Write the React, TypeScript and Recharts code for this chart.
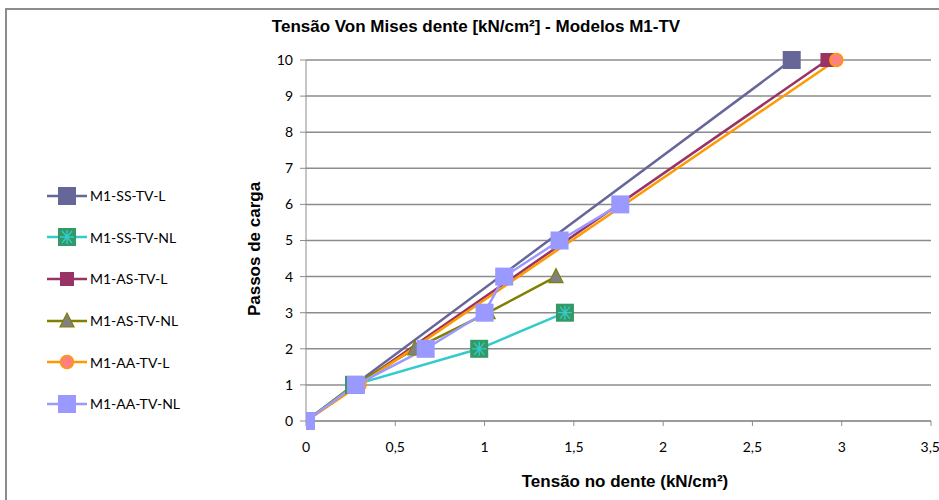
import React from "react"
import { CartesianGrid, Line, LineChart, XAxis, YAxis } from "recharts"

// load steps vs. Von Mises stress (kN/cm²)
const ssL = [
  { x: 0, y: 0 },
  { x: 0.27, y: 1 },
  { x: 2.72, y: 10 },
]
const ssNL = [
  { x: 0, y: 0 },
  { x: 0.27, y: 1 },
  { x: 0.97, y: 2 },
  { x: 1.45, y: 3 },
]
const asL = [
  { x: 0, y: 0 },
  { x: 0.29, y: 1 },
  { x: 2.92, y: 10 },
]
const asNL = [
  { x: 0, y: 0 },
  { x: 0.27, y: 1 },
  { x: 0.61, y: 2 },
  { x: 1.02, y: 3 },
  { x: 1.4, y: 4 },
]
const aaL = [
  { x: 0, y: 0 },
  { x: 0.3, y: 1 },
  { x: 2.97, y: 10 },
]
const aaNL = [
  { x: 0, y: 0 },
  { x: 0.28, y: 1 },
  { x: 0.67, y: 2 },
  { x: 1.0, y: 3 },
  { x: 1.11, y: 4 },
  { x: 1.42, y: 5 },
  { x: 1.76, y: 6 },
]

const xTicks = [0, 0.5, 1, 1.5, 2, 2.5, 3, 3.5]
const yTicks = [0, 1, 2, 3, 4, 5, 6, 7, 8, 9, 10]

type Kind = "bigSquare" | "starSquare" | "smallSquare" | "triangle" | "circle" | "paleSquare"

const series: { name: string; data: { x: number; y: number }[]; color: string; kind: Kind }[] = [
  { name: "M1-SS-TV-L", data: ssL, color: "#666699", kind: "bigSquare" },
  { name: "M1-SS-TV-NL", data: ssNL, color: "#33CCCC", kind: "starSquare" },
  { name: "M1-AS-TV-L", data: asL, color: "#993366", kind: "smallSquare" },
  { name: "M1-AS-TV-NL", data: asNL, color: "#808000", kind: "triangle" },
  { name: "M1-AA-TV-L", data: aaL, color: "#FF9900", kind: "circle" },
  { name: "M1-AA-TV-NL", data: aaNL, color: "#9999FF", kind: "paleSquare" },
]

const Marker = ({ kind, cx, cy }: { kind: Kind; cx: number; cy: number }) => {
  switch (kind) {
    case "bigSquare":
      return <rect x={cx - 9} y={cy - 9} width={18} height={18} fill="#666699" />
    case "starSquare":
      return (
        <g>
          <rect x={cx - 9} y={cy - 9} width={18} height={18} fill="#339966" />
          <path
            d={`M${cx - 7},${cy} L${cx + 7},${cy} M${cx},${cy - 7} L${cx},${cy + 7} M${cx - 5},${cy - 6} L${cx + 5},${cy + 6} M${cx - 5},${cy + 6} L${cx + 5},${cy - 6}`}
            stroke="#33CCCC"
            strokeWidth={1.3}
          />
        </g>
      )
    case "smallSquare":
      return <rect x={cx - 7} y={cy - 7} width={14} height={14} fill="#993366" />
    case "triangle":
      return (
        <path
          d={`M${cx},${cy - 8} L${cx + 7},${cy + 6} L${cx - 7},${cy + 6} Z`}
          fill="#808080"
          stroke="#808000"
          strokeWidth={1.2}
        />
      )
    case "circle":
      return <circle cx={cx} cy={cy} r={6.5} fill="#FF8080" stroke="#FF9900" strokeWidth={1.5} />
    case "paleSquare":
      return <rect x={cx - 9} y={cy - 9} width={18} height={18} fill="#9999FF" />
  }
}

const fmt = (v: number) => String(v).replace(".", ",")

const boldText = { fontFamily: "Liberation Sans, Arial, sans-serif", fontWeight: "bold" as const, fontSize: 17 }

export default function App() {
  return (
    <div style={{ position: "absolute", left: 0, top: 0, width: 939, height: 500, background: "#fff", overflow: "hidden" }}>
      <div
        style={{
          position: "absolute",
          left: 5,
          top: 8,
          width: 1000,
          height: 600,
          borderTop: "2px solid #8c8c8c",
          borderLeft: "2px solid #8c8c8c",
        }}
      />
      <div style={{ ...boldText, position: "absolute", left: 0, width: 952, top: 17, textAlign: "center" }}>
        Tensão Von Mises dente [kN/cm²] - Modelos M1-TV
      </div>
      <div style={{ ...boldText, position: "absolute", left: 325, width: 600, top: 472, textAlign: "center" }}>
        Tensão no dente (kN/cm²)
      </div>
      <div
        style={{
          ...boldText,
          position: "absolute",
          left: 255,
          top: 249,
          transform: "translate(-50%, -50%) rotate(-90deg)",
          whiteSpace: "nowrap",
        }}
      >
        Passos de carga
      </div>
      <div style={{ position: "absolute", left: 0, top: 0 }}>
        <LineChart width={939} height={500} margin={{ top: 60, right: 8, bottom: 49, left: 0 }}>
          <CartesianGrid vertical={false} stroke="#8c8c8c" strokeWidth={1.5} />
          <XAxis
            type="number"
            dataKey="x"
            domain={[0, 3.5]}
            ticks={xTicks}
            tickFormatter={fmt}
            stroke="#8c8c8c"
            tickSize={5}
            tickMargin={16}
            height={30}
            tick={{ fill: "#000", fontSize: 14, fontFamily: "Lato, sans-serif" }}
            allowDataOverflow
          />
          <YAxis
            type="number"
            dataKey="y"
            domain={[0, 10]}
            ticks={yTicks}
            width={306}
            stroke="#8c8c8c"
            tickSize={6}
            tickMargin={7}
            tick={{ fill: "#000", fontSize: 14, fontFamily: "Lato, sans-serif" }}
          />
          {series.map((s) => (
            <Line
              key={s.name}
              data={s.data}
              dataKey="y"
              name={s.name}
              stroke={s.color}
              strokeWidth={2.5}
              isAnimationActive={false}
              dot={(p: any) => <Marker key={`${s.name}-${p.index}`} kind={s.kind} cx={p.cx} cy={p.cy} />}
              activeDot={false}
            />
          ))}
        </LineChart>
      </div>
      <div style={{ position: "absolute", left: 47, top: 175 }}>
        {series.map((s) => (
          <div key={s.name} style={{ display: "flex", alignItems: "center", height: 41.6 }}>
            <svg width={40} height={20}>
              <line x1={0} y1={10} x2={40} y2={10} stroke={s.color} strokeWidth={2.5} />
              <Marker kind={s.kind} cx={20} cy={10} />
            </svg>
            <span style={{ marginLeft: 3, fontFamily: "Lato, sans-serif", fontSize: 14 }}>{s.name}</span>
          </div>
        ))}
      </div>
    </div>
  )
}
